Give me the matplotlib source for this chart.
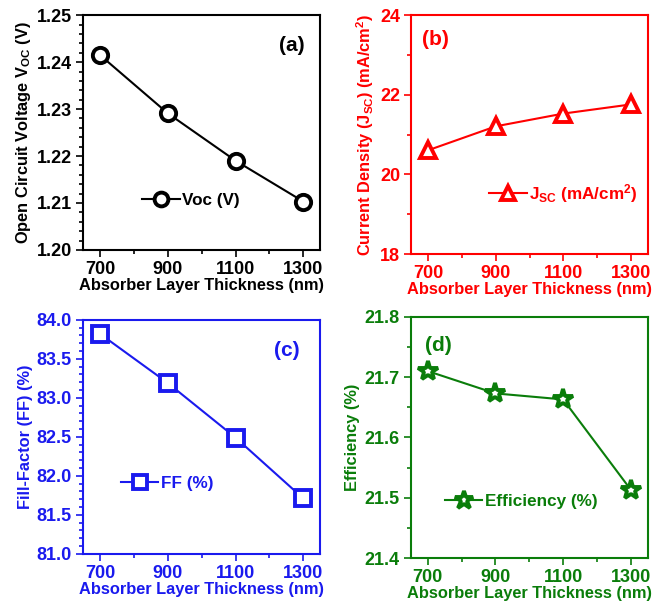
import matplotlib
matplotlib.use("Agg")
import matplotlib.pyplot as plt
from matplotlib.ticker import MultipleLocator

plt.rcParams["font.family"] = ["Liberation Sans", "DejaVu Sans"]
plt.rcParams["font.weight"] = "bold"
plt.rcParams["mathtext.fontset"] = "custom"
plt.rcParams["mathtext.rm"] = "Liberation Sans:bold"
plt.rcParams["mathtext.it"] = "Liberation Sans:bold"
plt.rcParams["mathtext.bf"] = "Liberation Sans:bold"

# data
thickness = [700, 900, 1100, 1300]
voc = [1.2415, 1.2291, 1.2190, 1.2103]
jsc = [20.61, 21.21, 21.53, 21.76]
ff = [83.82, 83.19, 82.49, 81.71]
eff = [21.710, 21.673, 21.663, 21.513]

fig = plt.figure(figsize=(6.7, 6.08), dpi=100)

panels = [
    # rect, y, color, marker, ylabel, legend, ylim, major, minor, label pos, legend pos
    ([0.124, 0.589, 0.354, 0.386], voc, "black", "o",
     "Open Circuit Voltage V$_{OC}$ (V)", "Voc (V)",
     (1.20, 1.25), 0.01, 0.002, (0.88, 0.87), (0.22, 0.21), "(a)"),
    ([0.614, 0.582, 0.353, 0.393], jsc, "#ff0000", "^",
     "Current Density (J$_{SC}$) (mA/cm$^2$)", "J$_{SC}$ (mA/cm$^2$)",
     (18, 24), 2, 1, (0.10, 0.90), (0.30, 0.255), "(b)"),
    ([0.124, 0.089, 0.354, 0.385], ff, "#1a1aee", "s",
     "Fill-Factor (FF) (%)", "FF (%)",
     (81.0, 84.0), 0.5, 0.1, (0.86, 0.87), (0.13, 0.30), "(c)"),
    ([0.613, 0.082, 0.354, 0.397], eff, "#0a7d0a", "*",
     "Efficiency (%)", "Efficiency (%)",
     (21.4, 21.8), 0.1, 0.05, (0.115, 0.88), (0.115, 0.236), "(d)"),
]

for rect, yvals, col, mk, ylab, leg, ylim, maj, mnr, lpos, legpos, tag in panels:
    ax = fig.add_axes(rect)
    ms = 15 if mk == "*" else 11
    ax.plot(thickness, yvals, color=col, lw=1.5, marker=mk, ms=ms,
            mfc="white", mec=col, mew=2.8, label=leg)
    ax.set_xlim(650, 1350)
    ax.set_ylim(*ylim)
    ax.set_xticks(thickness)
    ax.xaxis.set_minor_locator(MultipleLocator(100))
    ax.yaxis.set_major_locator(MultipleLocator(maj))
    ax.yaxis.set_minor_locator(MultipleLocator(mnr))
    if tag == "(a)":
        ax.yaxis.set_major_formatter(lambda v, p: f"{v:.2f}")
    elif tag in ("(c)", "(d)"):
        ax.yaxis.set_major_formatter(lambda v, p: f"{v:.1f}")
    for s in ax.spines.values():
        s.set_color(col)
        s.set_linewidth(1.5)
    ax.tick_params(which="both", direction="out", colors=col,
                   labelsize=13, width=1.2, pad=3)
    ax.tick_params(which="major", length=5)
    ax.tick_params(which="minor", length=3)
    ax.set_xlabel("Absorber Layer Thickness (nm)", color=col,
                  fontsize=11.8, fontweight="bold", labelpad=0)
    ax.set_ylabel(ylab, color=col, fontsize=11.8, fontweight="bold",
                  labelpad=3)
    ax.text(lpos[0], lpos[1], tag, transform=ax.transAxes, color=col,
            fontsize=15, fontweight="bold", ha="center", va="center")
    lg = ax.legend(loc="center left", bbox_to_anchor=legpos, frameon=False,
                   fontsize=12.3, handlelength=2.2, handletextpad=0.15,
                   borderaxespad=0, markerscale=0.9)
    for t in lg.get_texts():
        t.set_color(col)

fig.savefig("out.png", dpi=100)
